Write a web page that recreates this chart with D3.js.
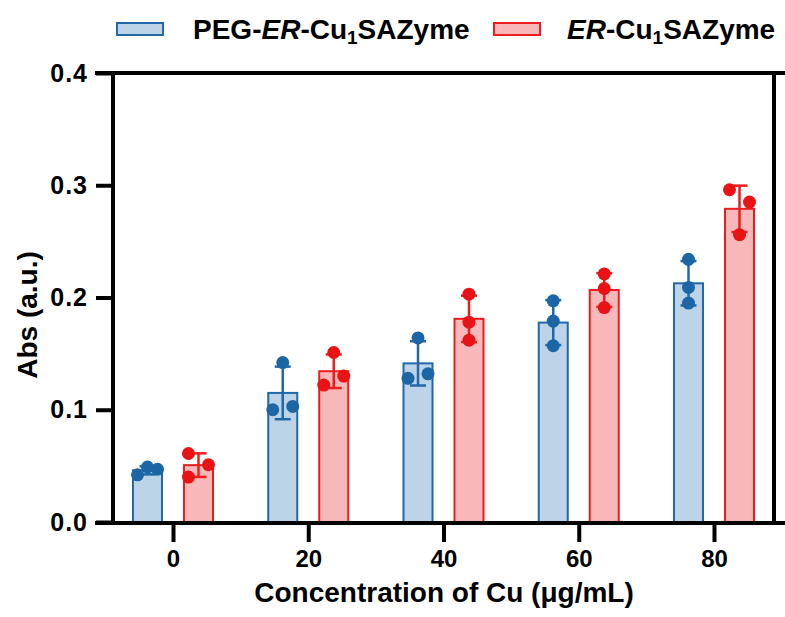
<!DOCTYPE html>
<html>
<head>
<meta charset="utf-8">
<script src="https://cdn.jsdelivr.net/npm/d3@7"></script>
<style>
  html, body { margin: 0; padding: 0; background: #fff; }
  svg { display: block; }
  text { font-family: "Liberation Sans", Arial, sans-serif; font-weight: bold; fill: #000; }
</style>
</head>
<body>
<svg id="chart" width="785" height="617"></svg>
<script>
// ---- data ----
const categories = ["0", "20", "40", "60", "80"];
const seriesNames = ["PEG-ER-Cu1SAZyme", "ER-Cu1SAZyme"];
const pegPoints = [
  [0.042, 0.049, 0.047],
  [0.142, 0.100, 0.103],
  [0.164, 0.128, 0.132],
  [0.197, 0.179, 0.157],
  [0.234, 0.209, 0.195]
];
const erPoints = [
  [0.061, 0.051, 0.040],
  [0.151, 0.122, 0.130],
  [0.203, 0.178, 0.162],
  [0.221, 0.208, 0.191],
  [0.296, 0.285, 0.256]
];
const yTicks = [0.0, 0.1, 0.2, 0.3, 0.4];

// ---- styles / layout ----
const colors = [
  { stroke: "#2068a8", fill: "#bdd3e8", dot: "#1d66a6" },
  { stroke: "#ec1c1f", fill: "#f7b8b9", dot: "#e91316" }
];
// horizontal jitter (px) of the replicate dots, per series / group / point
const jitter = [
  [[-10, 0, 10], [0, -10, 10], [0, -10, 10], [0, 0, 0], [0, 0, 0]],
  [[-10, 10, -10], [0, -10, 10], [0, 0, 0], [0, 0, 0], [-10, 10, 0]]
];

const svg = d3.select("#chart");
const y = d3.scaleLinear().domain([0, 0.4]).range([522, 73]);
const x = d3.scalePoint().domain(categories).range([173, 714]);
const xs = d3.scaleBand().domain([0, 1]).range([-41, 41]).paddingInner(0.392).paddingOuter(0);
const bw = xs.bandwidth();

const allSeries = [pegPoints, erPoints];
const stats = allSeries.map((pts, s) => pts.map((p, i) => ({
  s, i, cat: categories[i], pts: p,
  mean: d3.mean(p), sd: d3.deviation(p)
})));

// bars
stats.forEach((rows, s) => {
  svg.append("g").selectAll("rect").data(rows).join("rect")
    .attr("x", d => x(d.cat) + xs(s) + 1)
    .attr("y", d => y(d.mean))
    .attr("width", bw - 2)
    .attr("height", d => y(0) - y(d.mean))
    .attr("fill", colors[s].fill)
    .attr("stroke", colors[s].stroke)
    .attr("stroke-width", 2);
});

// error bars
stats.forEach((rows, s) => {
  const g = svg.append("g").attr("stroke", colors[s].stroke).attr("stroke-width", 2.5).attr("fill", "none");
  rows.forEach(d => {
    const cx = x(d.cat) + xs(s) + bw / 2;
    const lo = y(d.mean - d.sd), hi = y(d.mean + d.sd);
    g.append("line").attr("x1", cx).attr("x2", cx).attr("y1", lo).attr("y2", hi);
    g.append("line").attr("x1", cx - 8).attr("x2", cx + 8).attr("y1", lo).attr("y2", lo);
    g.append("line").attr("x1", cx - 8).attr("x2", cx + 8).attr("y1", hi).attr("y2", hi);
  });
});

// dots
stats.forEach((rows, s) => {
  const g = svg.append("g").attr("fill", colors[s].dot);
  rows.forEach(d => {
    const cx = x(d.cat) + xs(s) + bw / 2;
    d.pts.forEach((v, k) => {
      g.append("circle").attr("cx", cx + jitter[s][d.i][k]).attr("cy", y(v)).attr("r", 6.5);
    });
  });
});

// frame: top and bottom lines, right line
const frame = svg.append("g").attr("stroke", "#000").attr("stroke-width", 4);
frame.append("line").attr("x1", 95).attr("x2", 785).attr("y1", y(0.4)).attr("y2", y(0.4));
frame.append("line").attr("x1", 95).attr("x2", 785).attr("y1", y(0) + 1).attr("y2", y(0) + 1);
frame.append("line").attr("x1", 774).attr("x2", 774).attr("y1", y(0.4) - 2).attr("y2", y(0) + 1);

// y axis
const yAxis = svg.append("g").attr("transform", "translate(113,0)")
  .call(d3.axisLeft(y).tickValues(yTicks).tickFormat(d3.format(".1f")).tickSize(17).tickSizeOuter(0).tickPadding(8));
yAxis.selectAll("path, line").attr("stroke", "#000").attr("stroke-width", 4);
yAxis.select(".domain").attr("d", `M0,${y(0.4) - 2}V${y(0) + 2}`);
yAxis.selectAll("text").style("font-size", "25px").style("letter-spacing", "1px").attr("fill", "#000");

// x axis
const xAxis = svg.append("g").attr("transform", `translate(0,${y(0) + 1})`)
  .call(d3.axisBottom(x).tickSize(19).tickPadding(8));
xAxis.select(".domain").remove();
xAxis.selectAll("line").attr("stroke", "#000").attr("stroke-width", 4);
xAxis.selectAll("text").style("font-size", "24px").attr("fill", "#000");

// axis titles
svg.append("text").attr("x", 444).attr("y", 602).attr("text-anchor", "middle")
  .style("font-size", "28px").text("Concentration of Cu (μg/mL)");
svg.append("text").attr("transform", "translate(37,315) rotate(-90)").attr("text-anchor", "middle")
  .style("font-size", "28px").text("Abs (a.u.)");

// legend
const legendPos = [{ rx: 117, tx: 193 }, { rx: 494, tx: 567 }];
const legendParts = [
  [["PEG-", "normal"], ["ER", "italic"], ["-Cu", "normal"], ["1", "sub"], ["SAZyme", "normal"]],
  [["ER", "italic"], ["-Cu", "normal"], ["1", "sub"], ["SAZyme", "normal"]]
];
seriesNames.forEach((name, s) => {
  const g = svg.append("g");
  g.append("rect").attr("x", legendPos[s].rx).attr("y", 23).attr("width", 46).attr("height", 12)
    .attr("fill", colors[s].fill).attr("stroke", colors[s].stroke).attr("stroke-width", 2);
  const t = g.append("text").attr("x", legendPos[s].tx).attr("y", 39).style("font-size", "28px");
  legendParts[s].forEach(([str, kind]) => {
    const sp = t.append("tspan").text(str);
    if (kind === "italic") sp.style("font-style", "italic");
    if (kind === "sub") sp.style("font-size", "19px").attr("dy", 5);
    else if (kind === "normal" && str === "SAZyme") sp.attr("dy", -5);
  });
});
</script>
</body>
</html>
